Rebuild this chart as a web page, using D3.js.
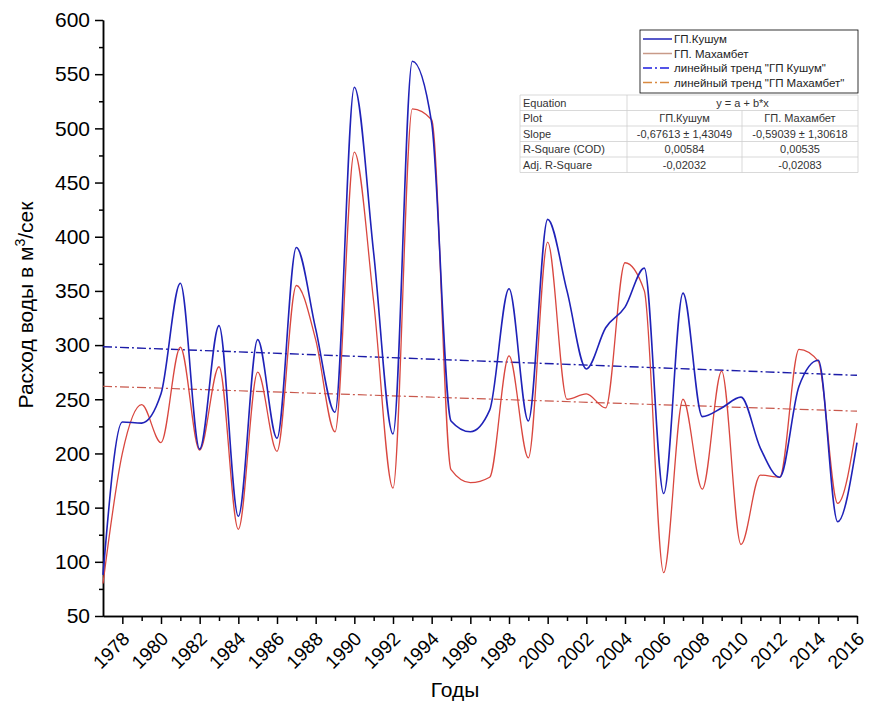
<!DOCTYPE html>
<html>
<head>
<meta charset="utf-8">
<script src="https://cdn.jsdelivr.net/npm/d3@7"></script>
<style>
  body { margin: 0; background: #fff; }
  svg { font-family: "Liberation Sans", Arial, sans-serif; }
  .axis path, .axis line { stroke: #000; stroke-width: 1.5; }
  .axis text { fill: #000; }
</style>
</head>
<body>
<div id="chart"></div>
<script>
// Years on the x axis
var years = d3.range(1977, 2017);

// Water discharge, m3/s
var kushum = [88, 229, 228, 255, 357, 204, 318, 142, 305, 214,
              390, 315, 238, 538, 385, 218, 562, 505, 230, 220,
              240, 352, 230, 416, 350, 278, 316, 335, 371, 163,
              348, 234, 242, 252, 205, 178, 262, 286, 137, 210];

var makhambet = [80, 200, 245, 210, 298, 203, 280, 130, 275, 202,
                 355, 305, 220, 478, 340, 168, 518, 508, 185, 173,
                 178, 290, 196, 395, 250, 255, 242, 376, 350, 90,
                 250, 167, 276, 116, 180, 178, 296, 285, 154, 228];

// Linear trends (ends of the fitted lines)
var trendYears = [1977, 2016];
var trendKushum = [298.5, 272.1];
var trendMakhambet = [262.0, 239.0];

// Tick values
var yMajor = d3.range(50, 601, 50);
var yMinor = d3.range(75, 600, 50);
var xMajor = d3.range(1978, 2017, 2);
var xMinor = d3.range(1979, 2016, 2);

// Fit statistics table
var tableHead = ['Equation', 'y = a + b*x'];
var tableRows = [
    ['Plot', 'ГП.Кушум', 'ГП. Махамбет'],
    ['Slope', '-0,67613 ± 1,43049', '-0,59039 ± 1,30618'],
    ['R-Square (COD)', '0,00584', '0,00535'],
    ['Adj. R-Square', '-0,02032', '-0,02083']
];

var legendLabels = ['ГП.Кушум', 'ГП. Махамбет',
                    'линейный тренд "ГП Кушум"', 'линейный тренд "ГП Махамбет"'];

var svgWidth = 873;
var svgHeight = 702;

var margin = { top: 20, right: 16, bottom: 86, left: 103 };
var chartWidth = svgWidth - margin.left - margin.right;
var chartHeight = svgHeight - margin.top - margin.bottom;

var svg = d3.select('#chart')
    .append('svg')
    .attr('width', svgWidth)
    .attr('height', svgHeight);

var chartGroup = svg.append('g')
    .attr('transform', `translate(${margin.left}, ${margin.top})`);

// Scales
var xScale = d3.scaleLinear()
    .domain([1977, 2016])
    .range([0, chartWidth]);

var yScale = d3.scaleLinear()
    .domain([50, 600])
    .range([chartHeight, 0]);

// Minor ticks first
chartGroup.append('g')
    .attr('class', 'axis')
    .call(d3.axisLeft(yScale).tickValues(yMinor).tickSize(4).tickSizeOuter(0).tickFormat(''));

chartGroup.append('g')
    .attr('class', 'axis')
    .attr('transform', `translate(0, ${chartHeight})`)
    .call(d3.axisBottom(xScale).tickValues(xMinor).tickSize(5).tickSizeOuter(0).tickFormat(''));

// Major y axis
var yAxis = chartGroup.append('g')
    .attr('class', 'axis')
    .call(d3.axisLeft(yScale).tickValues(yMajor).tickSize(8).tickSizeOuter(0).tickPadding(5));
yAxis.selectAll('text').style('font-size', '21px');

// Major x axis
var xAxis = chartGroup.append('g')
    .attr('class', 'axis')
    .attr('transform', `translate(0, ${chartHeight})`)
    .call(d3.axisBottom(xScale).tickValues(xMajor).tickSize(8).tickSizeOuter(0).tickFormat(d3.format('d')));
xAxis.selectAll('text')
    .style('font-size', '19px')
    .style('text-anchor', 'end')
    .attr('x', 0)
    .attr('y', 0)
    .attr('dy', 0)
    .attr('transform', 'translate(8, 24) rotate(-45)');

// Lines
var line = d3.line()
    .x((d, i) => xScale(years[i]))
    .y(d => yScale(d))
    .curve(d3.curveMonotoneX);

var trendLine = d3.line()
    .x((d, i) => xScale(trendYears[i]))
    .y(d => yScale(d));

chartGroup.append('path')
    .datum(trendMakhambet)
    .attr('d', trendLine)
    .attr('fill', 'none')
    .attr('stroke', '#c8584c')
    .attr('stroke-width', 1.2)
    .attr('stroke-dasharray', '9,3,2,3');

chartGroup.append('path')
    .datum(trendKushum)
    .attr('d', trendLine)
    .attr('fill', 'none')
    .attr('stroke', '#1c1ca8')
    .attr('stroke-width', 1.4)
    .attr('stroke-dasharray', '9,3,2,3');

chartGroup.append('path')
    .datum(makhambet)
    .attr('d', line)
    .attr('fill', 'none')
    .attr('stroke', '#d9473f')
    .attr('stroke-width', 1.3);

chartGroup.append('path')
    .datum(kushum)
    .attr('d', line)
    .attr('fill', 'none')
    .attr('stroke', '#1f22b8')
    .attr('stroke-width', 1.6);

// Axis titles
var yTitle = svg.append('text')
    .attr('transform', 'translate(33, 305) rotate(-90)')
    .attr('text-anchor', 'middle')
    .style('font-size', '21px');
yTitle.append('tspan').text('Расход воды в м');
yTitle.append('tspan').attr('dy', -8).style('font-size', '14px').text('3');
yTitle.append('tspan').attr('dy', 8).text('/сек');

svg.append('text')
    .attr('x', 455)
    .attr('y', 697)
    .attr('text-anchor', 'middle')
    .style('font-size', '21px')
    .text('Годы');

// Legend
var legend = svg.append('g').attr('transform', 'translate(640, 30)');
legend.append('rect')
    .attr('width', 218)
    .attr('height', 63)
    .attr('fill', '#fff')
    .attr('stroke', '#000')
    .attr('stroke-width', 0.8);

var legendStyles = [
    { color: '#1f22b8', dash: null },
    { color: '#c89a88', dash: null },
    { color: '#1c1ce0', dash: '9,3,2,3' },
    { color: '#d98a40', dash: '9,3,2,3' }
];

legendLabels.forEach(function (label, i) {
    var yPos = 9 + i * 14.5;
    legend.append('line')
        .attr('x1', 3).attr('x2', 32)
        .attr('y1', yPos).attr('y2', yPos)
        .attr('stroke', legendStyles[i].color)
        .attr('stroke-width', 1.5)
        .attr('stroke-dasharray', legendStyles[i].dash);
    legend.append('text')
        .attr('x', 34)
        .attr('y', yPos + 4)
        .style('font-size', '11.5px')
        .attr('fill', '#222')
        .text(label);
});

// Table
var table = svg.append('g').attr('transform', 'translate(520, 95)');
var colX = [0, 107, 222, 338];
var rowH = 15.5;
var gridColor = '#cfcfcf';

for (var r = 0; r <= 5; r++) {
    table.append('line')
        .attr('x1', 0).attr('x2', colX[3])
        .attr('y1', r * rowH).attr('y2', r * rowH)
        .attr('stroke', gridColor).attr('stroke-width', 0.8);
}
[0, 107, 338].forEach(function (cx) {
    table.append('line')
        .attr('x1', cx).attr('x2', cx)
        .attr('y1', 0).attr('y2', 5 * rowH)
        .attr('stroke', gridColor).attr('stroke-width', 0.8);
});
table.append('line')
    .attr('x1', 222).attr('x2', 222)
    .attr('y1', rowH).attr('y2', 5 * rowH)
    .attr('stroke', gridColor).attr('stroke-width', 0.8);

table.append('text')
    .attr('x', 3).attr('y', rowH - 4)
    .style('font-size', '11px').attr('fill', '#333')
    .text(tableHead[0]);
table.append('text')
    .attr('x', (colX[1] + colX[3]) / 2).attr('y', rowH - 4)
    .attr('text-anchor', 'middle')
    .style('font-size', '11px').attr('fill', '#333')
    .text(tableHead[1]);

tableRows.forEach(function (row, i) {
    var yPos = (i + 2) * rowH - 4;
    table.append('text')
        .attr('x', 3).attr('y', yPos)
        .style('font-size', '11px').attr('fill', '#333')
        .text(row[0]);
    table.append('text')
        .attr('x', (colX[1] + colX[2]) / 2).attr('y', yPos)
        .attr('text-anchor', 'middle')
        .style('font-size', '11px').attr('fill', '#333')
        .text(row[1]);
    table.append('text')
        .attr('x', (colX[2] + colX[3]) / 2).attr('y', yPos)
        .attr('text-anchor', 'middle')
        .style('font-size', '11px').attr('fill', '#333')
        .text(row[2]);
});
</script>
</body>
</html>
